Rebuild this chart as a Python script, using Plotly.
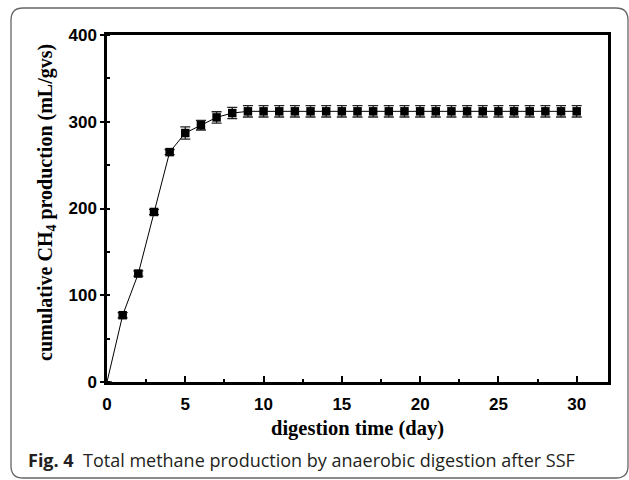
import plotly.graph_objects as go

# ---- data ----
days = list(range(0, 31))
ch4 = [0, 77, 125, 196, 265, 287, 296, 305, 310, 312, 312, 312, 312, 312, 312, 312,
       312, 312, 312, 312, 312, 312, 312, 312, 312, 312, 312, 312, 312, 312, 312]
err = [0, 3, 3, 3, 3, 7, 5.5, 6.5, 6.5, 6.5, 6.5, 6.5, 6.5, 6.5, 6.5, 6.5,
       6.5, 6.5, 6.5, 6.5, 6.5, 6.5, 6.5, 6.5, 6.5, 6.5, 6.5, 6.5, 6.5, 6.5, 6.5]
x_ticks = [0, 5, 10, 15, 20, 25, 30]
y_ticks = [0, 100, 200, 300, 400]

x_title = "digestion time (day)"
y_title = "cumulative CH<sub>4</sub> production (mL/gvs)"
caption = "<b>Fig. 4</b>  Total methane production by anaerobic digestion after SSF"

W, H = 629, 480
L, R, T, B = 107, 21, 35, 98
PW, PH = W - L - R, H - T - B


def px(xp):
    return (xp - L) / PW


def py(yp):
    return (H - B - yp) / PH


fig = go.Figure()
# line + error bars (drawn first, below the markers)
fig.add_trace(go.Scatter(
    x=days, y=ch4,
    mode="lines",
    line=dict(color="black", width=1),
    error_y=dict(type="data", array=err, visible=True, color="#222", thickness=1.3, width=5),
    cliponaxis=False,
    showlegend=False,
))
# markers on top
fig.add_trace(go.Scatter(
    x=days[1:], y=ch4[1:],
    mode="markers",
    marker=dict(symbol="square", size=8.5, color="black", line=dict(width=0)),
    cliponaxis=False,
    showlegend=False,
))

axis_font = dict(family="Liberation Sans, Arial", size=17, color="black", weight="bold")

fig.update_xaxes(
    range=[0, 32], tickvals=x_ticks, ticks="inside", ticklen=6, tickwidth=1.5,
    tickcolor="black", showline=True, linewidth=2.5, linecolor="black", mirror=True,
    showgrid=False, zeroline=False, tickfont=axis_font, ticklabelstandoff=5,
    minor=dict(dtick=2.5, tick0=0, ticks="inside", ticklen=3, tickwidth=1.5, tickcolor="black"),
)
fig.update_yaxes(
    range=[0, 400], tickvals=y_ticks, ticks="outside", ticklen=4, tickwidth=1.5,
    tickcolor="black", showline=True, linewidth=2.5, linecolor="black", mirror=True,
    showgrid=False, zeroline=False, tickfont=axis_font, ticklabelstandoff=0,
    minor=dict(dtick=50, tick0=0, ticks="inside", ticklen=3, tickwidth=1.5, tickcolor="black"),
)

title_font = dict(family="Liberation Serif, Times New Roman", size=20.5, color="black", weight="bold")

annotations = [
    dict(text=x_title, x=0.5, y=py(428), xref="paper", yref="paper",
         xanchor="center", yanchor="middle", showarrow=False, font=title_font),
    dict(text=y_title, x=px(46), y=py(203), xref="paper", yref="paper",
         xanchor="center", yanchor="middle", showarrow=False, textangle=-90,
         font=dict(family="Liberation Serif, Times New Roman", size=20, color="black", weight="bold")),
    dict(text=caption, x=px(26), y=py(460), xref="paper", yref="paper",
         xanchor="left", yanchor="middle", showarrow=False,
         font=dict(family="Open Sans", size=18, color="#231f20")),
]

# rounded outer frame
x0, x1, y0, y1, r = 11, 628, 8, 478, 12
rx, ry = r / PW, r / PH
X0, X1, Y0, Y1 = px(x0), px(x1), py(y0), py(y1)
path = (f"M {X0 + rx},{Y0} L {X1 - rx},{Y0} Q {X1},{Y0} {X1},{Y0 - ry} "
        f"L {X1},{Y1 + ry} Q {X1},{Y1} {X1 - rx},{Y1} "
        f"L {X0 + rx},{Y1} Q {X0},{Y1} {X0},{Y1 + ry} "
        f"L {X0},{Y0 - ry} Q {X0},{Y0} {X0 + rx},{Y0} Z")

fig.update_layout(
    width=W, height=H,
    margin=dict(l=L, r=R, t=T, b=B),
    paper_bgcolor="white", plot_bgcolor="white",
    annotations=annotations,
    shapes=[dict(type="path", path=path, xref="paper", yref="paper",
                 line=dict(color="#666", width=1.3), layer="below")],
)

fig.write_html("out.html")
